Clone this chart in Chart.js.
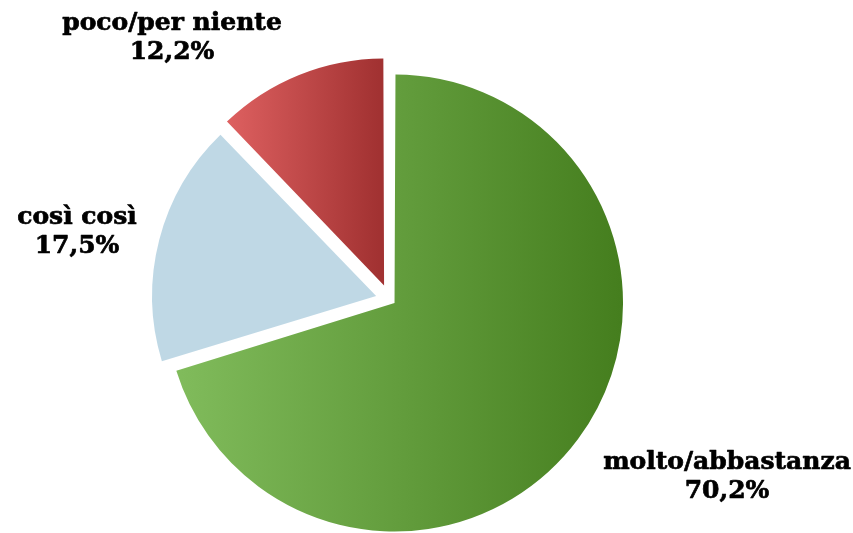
<!DOCTYPE html>
<html>
<head>
<meta charset="utf-8">
<script src="https://cdn.jsdelivr.net/npm/chart.js@4.4.1/dist/chart.umd.min.js"></script>
<style>
  html, body { margin: 0; padding: 0; background: #fff; }
  #wrap { width: 853px; height: 533px; }
</style>
</head>
<body>
<div id="wrap"><canvas id="pieChart" width="853" height="533"></canvas></div>
<script>
const categories = ['molto/abbastanza', 'così così', 'poco/per niente'];
const percentValues = [70.2, 17.5, 12.2];

// colours: [left, right] of the horizontal gradient for each slice
const sliceColors = [
    ['#80bb5b', '#447d1d'],
    ['#bfd8e5', '#bfd8e5'],
    ['#e06262', '#a23232'],
];
const sliceOffsets = [24, 56, 60];
const pieRadius = 222.5;

// where the labels sit (centre of the two text lines)
const labelSpots = [[727, 462], [77, 217], [172, 23]];

const sliceGradient = (c) => {
    const i = c.dataIndex;
    const chart = c.chart;
    const area = chart.chartArea;
    if (!area || i === undefined) return sliceColors[i || 0][0];
    const cx = (area.left + area.right) / 2;
    const cy = (area.top + area.bottom) / 2;
    const total = percentValues.reduce((a, b) => a + b, 0);
    let before = 0;
    for (let k = 0; k < i; k++) before += percentValues[k];
    const a0 = -Math.PI / 2 + 2 * Math.PI * before / total;
    const a1 = a0 + 2 * Math.PI * percentValues[i] / total;
    const mid = (a0 + a1) / 2;
    const t = sliceOffsets[i] / 4;
    const ox = cx + Math.cos(mid) * t;
    const r = pieRadius + t * (1 - Math.sin(Math.min(Math.PI, a1 - a0)));
    let minX = ox, maxX = ox;
    for (let s = 0; s <= 100; s++) {
        const x = ox + Math.cos(a0 + (a1 - a0) * s / 100) * r;
        minX = Math.min(minX, x);
        maxX = Math.max(maxX, x);
    }
    const g = chart.ctx.createLinearGradient(minX, 0, maxX, 0);
    g.addColorStop(0, sliceColors[i][0]);
    g.addColorStop(1, sliceColors[i][1]);
    return g;
};

const pieLabels = {
    id: 'pieLabels',
    afterDatasetsDraw(chart) {
        const ctx = chart.ctx;
        ctx.save();
        ctx.fillStyle = '#000';
        ctx.strokeStyle = '#000';
        ctx.lineWidth = 0.7;
        ctx.lineJoin = 'round';
        ctx.font = 'bold 25px "DejaVu Serif", serif';
        ctx.textAlign = 'center';
        ctx.textBaseline = 'middle';
        categories.forEach((cat, i) => {
            const [x, y] = labelSpots[i];
            const pct = percentValues[i].toFixed(1).replace('.', ',') + '%';
            ctx.fillText(cat, x, y);
            ctx.strokeText(cat, x, y);
            ctx.fillText(pct, x, y + 29);
            ctx.strokeText(pct, x, y + 29);
        });
        ctx.restore();
    }
};

const ctx = document.getElementById('pieChart').getContext('2d');
new Chart(ctx, {
    type: 'pie',
    data: {
        labels: categories,
        datasets: [
            {
                data: percentValues,
                backgroundColor: sliceGradient,
                borderWidth: 0,
                offset: sliceOffsets,
                radius: pieRadius,
            },
        ],
    },
    options: {
        responsive: false,
        animation: false,
        layout: {
            padding: { left: 0, right: 73.6, top: 65.8, bottom: 0 },
        },
        plugins: {
            legend: { display: false },
            tooltip: { enabled: false },
        },
    },
    plugins: [pieLabels],
});
</script>
</body>
</html>
